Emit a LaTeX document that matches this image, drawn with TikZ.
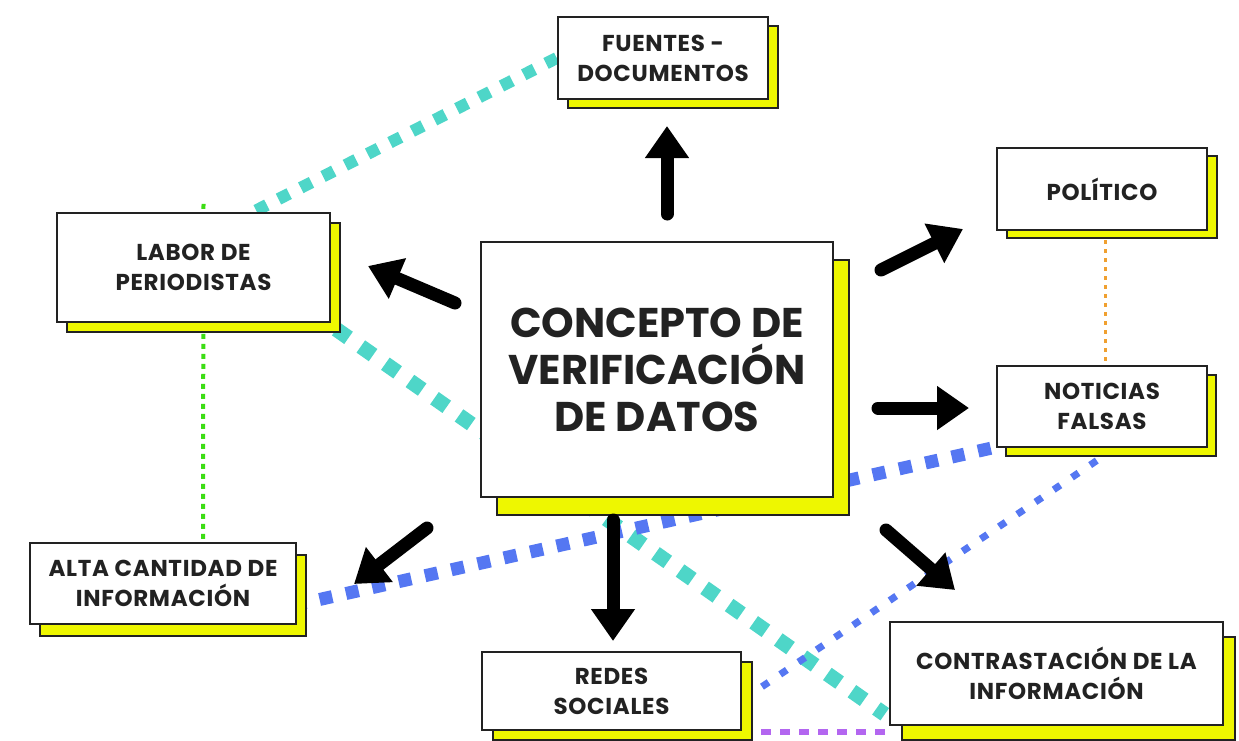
\documentclass[tikz,border=0pt]{standalone}
\usepackage{fontspec}
\setmainfont{Poppins}
\newfontfamily\boxfont{Poppins}[LetterSpace=3]
\usetikzlibrary{arrows.meta,shadows}
\pgfdeclarelayer{background}
\pgfsetlayers{background,main}
\definecolor{teal1}{HTML}{4ED6C8}
\definecolor{blue1}{HTML}{5577F2}
\definecolor{yel}{HTML}{EEF700}
\definecolor{grn}{HTML}{3CDD14}
\definecolor{org}{HTML}{F0A030}
\definecolor{pur}{HTML}{B366F0}
\definecolor{ink}{HTML}{222222}
\tikzset{
  box/.style={draw=ink, line width=2.5pt, fill=white, align=center, text=ink,
    font=\boxfont\fontsize{23}{30}\selectfont\bfseries, inner sep=0pt},
  yshadow/.style 2 args={general shadow={fill=yel, draw=ink, line width=2.5pt,
    shadow xshift=#1pt, shadow yshift=-#2pt}},
  bigarrow/.style={line width=13pt, line cap=round, draw=black,
    -{Triangle[length=32pt,width=42pt]}},
  tealline/.style={teal1, line width=12pt, dash pattern=on 12pt off 13pt},
  tealwide/.style={teal1, line width=15pt, dash pattern=on 15pt off 15pt},
  bluethick/.style={blue1, line width=13pt, dash pattern=on 13pt off 14pt},
  bluethin/.style={blue1, line width=7pt, dash pattern=on 8pt off 14pt},
  greenline/.style={grn, line width=4pt, dash pattern=on 5pt off 5pt},
  orangeline/.style={org, line width=3pt, dash pattern=on 4pt off 5pt},
  purpleline/.style={pur, line width=6pt, dash pattern=on 10pt off 9pt},
}
\begin{document}
\begin{tikzpicture}[x=1pt,y=-1pt]
\useasboundingbox (0,0) rectangle (1239,740);
\node[box, yshadow={10}{9}, minimum width=210pt, minimum height=82pt] (fuentes) at (663,58) {FUENTES -\\DOCUMENTOS};
\node[box, yshadow={10}{10}, minimum width=273pt, minimum height=109pt] (labor) at (193.5,267.5) {LABOR DE\\PERIODISTAS};
\node[box, yshadow={16}{18}, minimum width=352pt, minimum height=255pt,
  font=\fontsize{41.5}{47}\selectfont\bfseries] (central) at (657,369.5) {CONCEPTO DE\\VERIFICACIÓN\\DE DATOS};
\node[box, yshadow={10}{8}, minimum width=210pt, minimum height=82pt] (politico) at (1102,189) {POLÍTICO};
\node[box, yshadow={9}{9}, minimum width=210pt, minimum height=81pt] (noticias) at (1102,406.5) {NOTICIAS\\FALSAS};
\node[box, yshadow={10}{12}, minimum width=266pt, minimum height=81pt] (alta) at (163,583.5) {ALTA CANTIDAD DE\\INFORMACIÓN};
\node[box, yshadow={11}{10}, minimum width=259pt, minimum height=78pt] (redes) at (611.5,691) {REDES\\SOCIALES};
\node[box, yshadow={12}{15}, minimum width=333pt, minimum height=103pt] (contrast) at (1056.5,673.5) {CONTRASTACIÓN DE LA\\INFORMACIÓN};

\begin{pgfonlayer}{background}
\draw[tealline] (fuentes.west) -- ([xshift=60pt]labor.north);
\draw[tealwide] ([xshift=5pt,yshift=-6pt]labor.south east) -- ([xshift=-4pt,yshift=12pt]contrast.south west);
\draw[bluethick] ([xshift=-5pt]noticias.south west) -- ([yshift=-21pt]alta.east);
\draw[bluethin] ([xshift=13pt]noticias.south) -- ([yshift=-9pt]redes.east);
\draw[greenline] ([xshift=10pt,yshift=8pt]labor.north) -- ([xshift=40pt]alta.north);
\draw[orangeline] ([xshift=3pt]politico.south) -- ([xshift=3pt]noticias.north);
\draw[purpleline] ([yshift=-1pt]redes.south east) -- ([yshift=-1pt]redes.south east -| contrast.west);
\end{pgfonlayer}

\coordinate (a1s) at (667,214); \coordinate (a1e) at (667,126);
\coordinate (a2s) at (455,303); \coordinate (a2e) at (368,266);
\coordinate (a3s) at (881,270); \coordinate (a3e) at (963,229);
\coordinate (a4s) at (878,408); \coordinate (a4e) at (969,408);
\coordinate (a5s) at (427,528); \coordinate (a5e) at (354,584);
\coordinate (a6s) at (613,520); \coordinate (a6e) at (613,641);
\coordinate (a7s) at (886,530); \coordinate (a7e) at (955,590);
\draw[bigarrow] (a1s) -- (a1e);
\draw[bigarrow] (a2s) -- (a2e);
\draw[bigarrow] (a3s) -- (a3e);
\draw[bigarrow] (a4s) -- (a4e);
\draw[bigarrow] (a5s) -- (a5e);
\draw[bigarrow] (a6s) -- (a6e);
\draw[bigarrow] (a7s) -- (a7e);
\end{tikzpicture}
\end{document}
